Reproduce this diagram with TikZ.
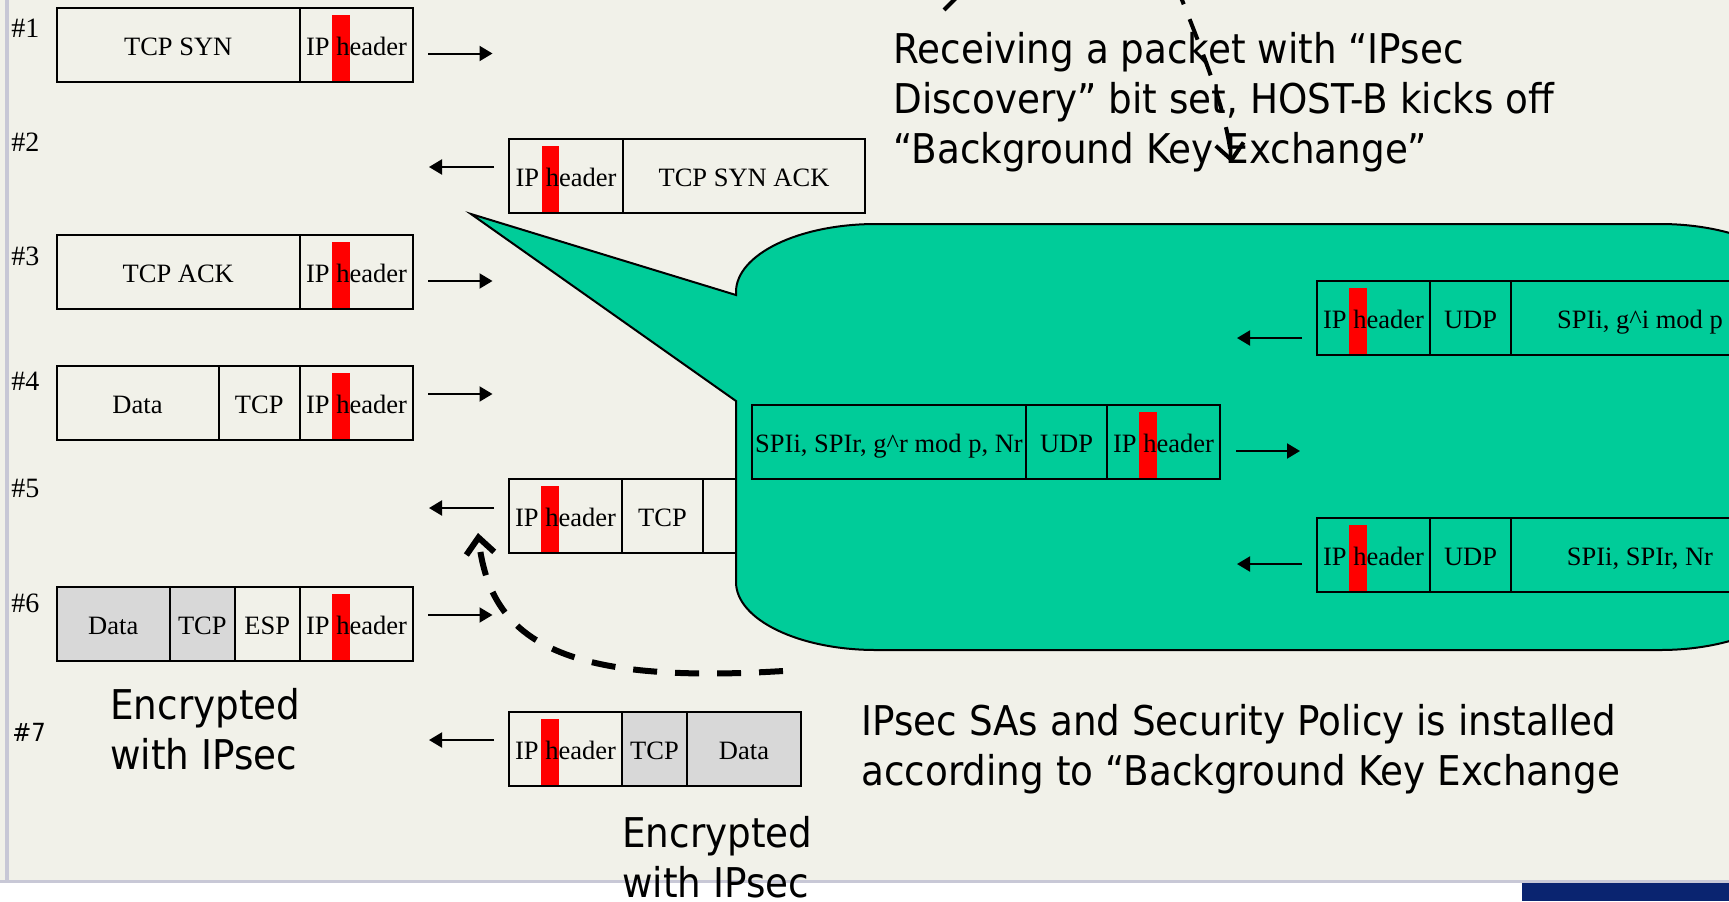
\documentclass[tikz,border=0pt]{standalone}
\usepackage{fontspec}
\newfontfamily\cellserif{Liberation Serif}
\newfontfamily\notesans[FakeStretch=0.91]{DejaVu Sans}
\usetikzlibrary{arrows.meta,positioning}
\definecolor{slidebg}{RGB}{241,241,233}
\definecolor{bubble}{RGB}{0,204,153}
\definecolor{crypt}{RGB}{216,216,216}
\definecolor{edgegrey}{RGB}{200,200,214}
\definecolor{navy}{RGB}{10,36,112}
% red marker behind the h of "header"
\newcommand{\redh}{\sbox0{h}\rlap{\smash{\hspace{-2pt}\color{red}\rule[-13pt]{\dimexpr\wd0+2pt\relax}{33pt}}}h}
\tikzset{
    cell/.style={
           rectangle,
           draw=black, line width=1pt,
           minimum height=37pt,
           inner sep=0pt, outer sep=0pt,
           text height=10pt, text depth=0pt,
           font=\cellserif\fontsize{13.25pt}{15pt}\selectfont},
    greyCell/.style={fill=crypt},
    pil/.style={
           -{Triangle[length=6.5pt,width=7.5pt]},
           line width=1pt},
    dashPil/.style={
           -{Straight Barb[length=8pt,width=14pt]},
           line width=3pt,
           dash pattern=on 12pt off 9pt},
    note/.style={
           anchor=north west,
           inner sep=0pt,
           align=left,
           font=\notesans\fontsize{20.5pt}{25pt}\selectfont},
    nr/.style={
           anchor=base west,
           inner sep=0pt,
           font=\cellserif\fontsize{14pt}{16pt}\selectfont}
}
\begin{document}
\begin{tikzpicture}[x=0.5pt, y=-0.5pt]
	\useasboundingbox (0,0) rectangle (1729,901);
	\clip (0,0) rectangle (1729,901);
	% slide
	\fill[slidebg] (0,0) rectangle (1729,880);
	\fill[white] (0,880) rectangle (1729,901);
	\fill[navy] (1522,882) rectangle (1729,901);
	\draw[edgegrey, line width=1.5pt] (0,881) -- (1729,881);
	\draw[edgegrey, line width=2pt] (7,0) -- (7,880);

	% packet 5 goes under the bubble
	\node[cell, minimum width=56.5pt, anchor=north west] (ip5) at (509,479) {IP \redh eader};
	\node[cell, minimum width=40.5pt, right=0pt of ip5] (tcp5) {TCP};
	\node[cell, minimum width=81pt, right=0pt of tcp5] (rest5) {};

	% bubble
	\draw[fill=bubble, line width=1pt] (736,295) -- (471,214) -- (736,401) -- (736,582)
		arc[start angle=180, end angle=270, x radius=70pt, y radius=34pt] -- (1660,650)
		arc[start angle=270, end angle=360, x radius=70pt, y radius=34pt] -- (1800,292)
		arc[start angle=0, end angle=90, x radius=70pt, y radius=34pt] -- (876,224)
		arc[start angle=90, end angle=180, x radius=70pt, y radius=34pt] -- cycle;

	% host A side
	\node[cell, minimum width=121.75pt, anchor=north west] (syn1) at (56.5,8) {TCP SYN};
	\node[cell, minimum width=56.5pt, right=0pt of syn1] (ip1) {IP \redh eader};
	\node[cell, minimum width=121.75pt, anchor=north west] (ack3) at (56.5,235) {TCP ACK};
	\node[cell, minimum width=56.5pt, right=0pt of ack3] (ip3) {IP \redh eader};
	\node[cell, minimum width=81pt, anchor=north west] (data4) at (56.5,366) {Data};
	\node[cell, minimum width=40.75pt, right=0pt of data4] (tcp4) {TCP};
	\node[cell, minimum width=56.5pt, right=0pt of tcp4] (ip4) {IP \redh eader};
	\node[cell, greyCell, minimum width=56.75pt, anchor=north west] (data6) at (56.5,587) {Data};
	\node[cell, greyCell, minimum width=32.3pt, right=0pt of data6] (tcp6) {TCP};
	\node[cell, minimum width=32.7pt, right=0pt of tcp6] (esp6) {ESP};
	\node[cell, minimum width=56.5pt, right=0pt of esp6] (ip6) {IP \redh eader};

	% host B side
	\node[cell, minimum width=57pt, anchor=north west] (ip2) at (509,139) {IP \redh eader};
	\node[cell, minimum width=121pt, right=0pt of ip2] (synack2) {TCP SYN ACK};
	\node[cell, minimum width=56.5pt, anchor=north west] (ip7) at (509,712) {IP \redh eader};
	\node[cell, greyCell, minimum width=32.5pt, right=0pt of ip7] (tcp7) {TCP};
	\node[cell, greyCell, minimum width=57pt, right=0pt of tcp7] (data7) {Data};

	% key exchange inside the bubble
	\node[cell, minimum width=137pt, anchor=north west] (kexM) at (752,405) {SPIi, SPIr, g\textasciicircum r mod p, Nr};
	\node[cell, minimum width=40.5pt, right=0pt of kexM] (udpM) {UDP};
	\node[cell, minimum width=56.5pt, right=0pt of udpM] (ipM) {IP \redh eader};
	\node[cell, minimum width=56.5pt, anchor=north west] (ipR1) at (1317,281) {IP \redh eader};
	\node[cell, minimum width=40.5pt, right=0pt of ipR1] (udpR1) {UDP};
	\node[cell, minimum width=129pt, right=0pt of udpR1] (kexR1) {SPIi, g\textasciicircum i mod p};
	\node[cell, minimum width=56.5pt, anchor=north west] (ipR2) at (1317,518) {IP \redh eader};
	\node[cell, minimum width=40.5pt, right=0pt of ipR2] (udpR2) {UDP};
	\node[cell, minimum width=129pt, right=0pt of udpR2] (kexR2) {SPIi, SPIr, Nr};

	% directions
	\draw[pil] ([xshift=7.5pt,yshift=-4.25pt]ip1.east) -- ++(32.25pt,0);
	\draw[pil] ([xshift=-7.5pt,yshift=4.5pt]ip2.west) -- ++(-32.5pt,0);
	\draw[pil] ([xshift=7.5pt,yshift=-4.5pt]ip3.east) -- ++(32.25pt,0);
	\draw[pil] ([xshift=7.5pt,yshift=4.5pt]ip4.east) -- ++(32.25pt,0);
	\draw[pil] ([xshift=-7.5pt,yshift=4pt]ip5.west) -- ++(-32.5pt,0);
	\draw[pil] ([xshift=7.5pt,yshift=4.5pt]ip6.east) -- ++(32.25pt,0);
	\draw[pil] ([xshift=-7.5pt,yshift=4.5pt]ip7.west) -- ++(-32.5pt,0);
	\draw[pil] ([xshift=-7.5pt,yshift=-10pt]ipR1.west) -- ++(-32.5pt,0);
	\draw[pil] ([xshift=8pt,yshift=-4.5pt]ipM.east) -- ++(32pt,0);
	\draw[pil] ([xshift=-7.5pt,yshift=-4.5pt]ipR2.west) -- ++(-32.5pt,0);

	% labels
	\node[nr] (n1) at (11,37) {\#1};
	\node[nr] (n2) at (11,151) {\#2};
	\node[nr] (n3) at (11,265) {\#3};
	\node[nr] (n4) at (11,390) {\#4};
	\node[nr] (n5) at (11,497) {\#5};
	\node[nr] (n6) at (11,612) {\#6};
	\node[nr, font=\notesans\fontsize{12.5pt}{14pt}\selectfont] (n7) at (12,741) {\#7};

	\node[note] (kickoff) at (893,32) {Receiving a packet with “IPsec\\Discovery” bit set, HOST-B kicks off\\“Background Key Exchange”};
	\node[note] (installed) at (861,704) {IPsec SAs and Security Policy is installed\\according to “Background Key Exchange};
	\node[note] (enc6) at (110,688) {Encrypted\\with IPsec};
	\node[note] (enc7) at (622,816) {Encrypted\\with IPsec};

	% dashed pointers
	\coordinate (bubbleFoot) at (783,671);
	\coordinate (ackIn) at (478,533);
	\draw[dashPil] (bubbleFoot) .. controls (560,685) and (490,640) .. (ackIn);
	\coordinate (topIn) at (1180,-5);
	\coordinate (topOut) at (1232,163);
	\draw[dashPil, line width=2pt, dash pattern=on 11pt off 8pt, dash phase=6pt] (topIn) .. controls (1212,75) and (1226,115) .. (topOut);
	\coordinate (leftIn) at (957,-3);
	\coordinate (leftOut) at (944,10);
	\draw[line width=2pt] (leftIn) -- (leftOut);
\end{tikzpicture}
\end{document}
